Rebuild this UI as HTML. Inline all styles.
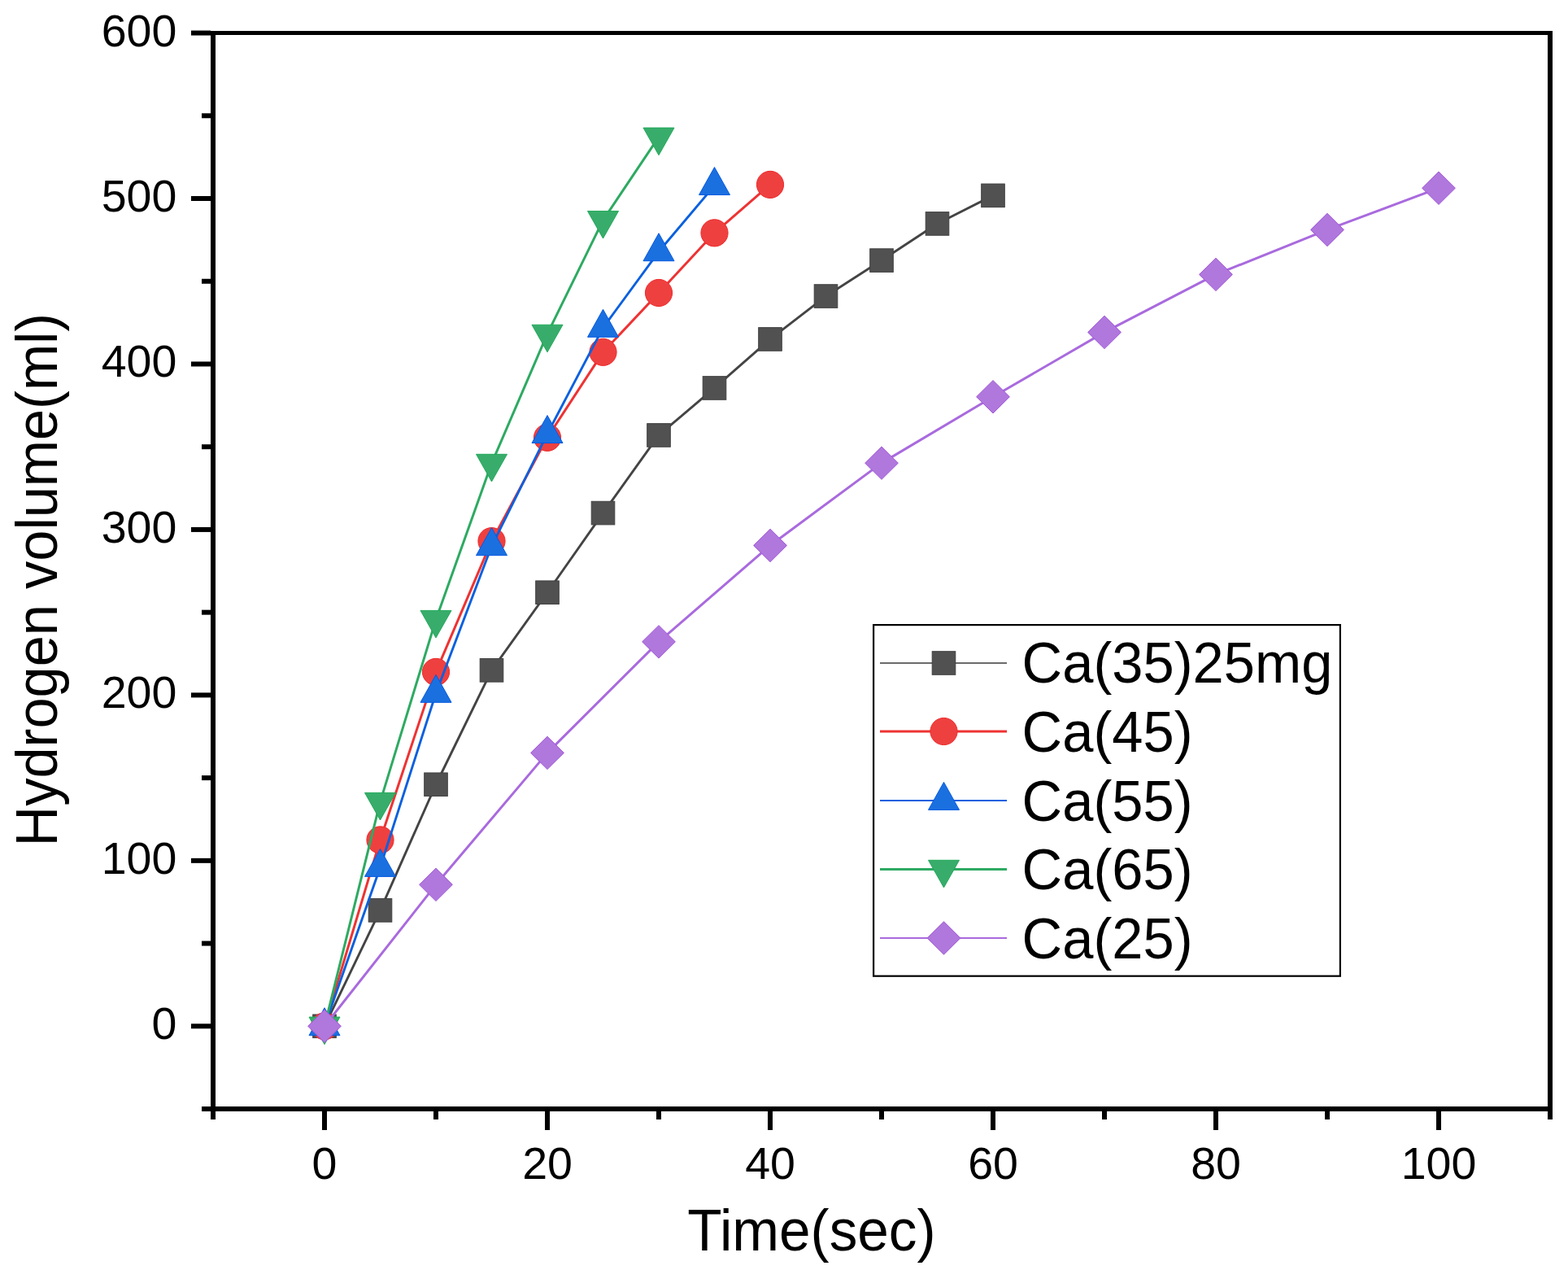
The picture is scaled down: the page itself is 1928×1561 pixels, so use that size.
<!DOCTYPE html>
<html><head><meta charset="utf-8"><title>Hydrogen volume vs Time</title>
<style>
html,body{margin:0;padding:0;background:#fff;}
body{width:1928px;height:1561px;overflow:hidden;}
svg{display:block;}
text{font-family:"Liberation Sans",Arial,sans-serif;fill:#000;}
</style></head><body>
<svg width="1928" height="1561" viewBox="0 0 1928 1561">
<rect x="0" y="0" width="1928" height="1561" fill="#fff"/>

<g>
<polyline points="399,1261.3 467.5,1118.88 536,964.25 604.5,823.86 673,728.23 741.5,630.57 810,534.95 878.5,476.96 947,416.94 1015.5,364.04 1084,320.09 1152.5,274.93 1221,240.34" fill="none" stroke="#444444" stroke-width="2.9" stroke-linejoin="round"/>
<rect x="384.7" y="1247" width="28.6" height="28.6" fill="#515151" stroke="#404040" stroke-width="1"/>
<rect x="453.2" y="1104.58" width="28.6" height="28.6" fill="#515151" stroke="#404040" stroke-width="1"/>
<rect x="521.7" y="949.95" width="28.6" height="28.6" fill="#515151" stroke="#404040" stroke-width="1"/>
<rect x="590.2" y="809.56" width="28.6" height="28.6" fill="#515151" stroke="#404040" stroke-width="1"/>
<rect x="658.7" y="713.93" width="28.6" height="28.6" fill="#515151" stroke="#404040" stroke-width="1"/>
<rect x="727.2" y="616.27" width="28.6" height="28.6" fill="#515151" stroke="#404040" stroke-width="1"/>
<rect x="795.7" y="520.65" width="28.6" height="28.6" fill="#515151" stroke="#404040" stroke-width="1"/>
<rect x="864.2" y="462.66" width="28.6" height="28.6" fill="#515151" stroke="#404040" stroke-width="1"/>
<rect x="932.7" y="402.64" width="28.6" height="28.6" fill="#515151" stroke="#404040" stroke-width="1"/>
<rect x="1001.2" y="349.74" width="28.6" height="28.6" fill="#515151" stroke="#404040" stroke-width="1"/>
<rect x="1069.7" y="305.79" width="28.6" height="28.6" fill="#515151" stroke="#404040" stroke-width="1"/>
<rect x="1138.2" y="260.63" width="28.6" height="28.6" fill="#515151" stroke="#404040" stroke-width="1"/>
<rect x="1206.7" y="226.04" width="28.6" height="28.6" fill="#515151" stroke="#404040" stroke-width="1"/>
</g>
<g>
<polyline points="399,1261.3 467.5,1032.41 536,825.9 604.5,665.16 673,537.8 741.5,432.81 810,359.97 878.5,286.32 947,226.91" fill="none" stroke="#ee3333" stroke-width="3.0" stroke-linejoin="round"/>
<circle cx="399" cy="1261.3" r="16.6" fill="#ef4040" stroke="#ee2a2a" stroke-width="1"/>
<circle cx="467.5" cy="1032.41" r="16.6" fill="#ef4040" stroke="#ee2a2a" stroke-width="1"/>
<circle cx="536" cy="825.9" r="16.6" fill="#ef4040" stroke="#ee2a2a" stroke-width="1"/>
<circle cx="604.5" cy="665.16" r="16.6" fill="#ef4040" stroke="#ee2a2a" stroke-width="1"/>
<circle cx="673" cy="537.8" r="16.6" fill="#ef4040" stroke="#ee2a2a" stroke-width="1"/>
<circle cx="741.5" cy="432.81" r="16.6" fill="#ef4040" stroke="#ee2a2a" stroke-width="1"/>
<circle cx="810" cy="359.97" r="16.6" fill="#ef4040" stroke="#ee2a2a" stroke-width="1"/>
<circle cx="878.5" cy="286.32" r="16.6" fill="#ef4040" stroke="#ee2a2a" stroke-width="1"/>
<circle cx="947" cy="226.91" r="16.6" fill="#ef4040" stroke="#ee2a2a" stroke-width="1"/>
</g>
<g>
<polyline points="399,1261.3 467.5,1065.98 536,851.94 604.5,671.27 673,533.12 741.5,402.9 810,309.31 878.5,228.13" fill="none" stroke="#0a60de" stroke-width="2.9" stroke-linejoin="round"/>
<polygon points="399,1238.7 418,1272.7 380,1272.7" fill="#1b70e0" stroke="#0559e0" stroke-width="1" stroke-linejoin="miter"/>
<polygon points="467.5,1043.38 486.5,1077.38 448.5,1077.38" fill="#1b70e0" stroke="#0559e0" stroke-width="1" stroke-linejoin="miter"/>
<polygon points="536,829.34 555,863.34 517,863.34" fill="#1b70e0" stroke="#0559e0" stroke-width="1" stroke-linejoin="miter"/>
<polygon points="604.5,648.67 623.5,682.67 585.5,682.67" fill="#1b70e0" stroke="#0559e0" stroke-width="1" stroke-linejoin="miter"/>
<polygon points="673,510.52 692,544.52 654,544.52" fill="#1b70e0" stroke="#0559e0" stroke-width="1" stroke-linejoin="miter"/>
<polygon points="741.5,380.3 760.5,414.3 722.5,414.3" fill="#1b70e0" stroke="#0559e0" stroke-width="1" stroke-linejoin="miter"/>
<polygon points="810,286.71 829,320.71 791,320.71" fill="#1b70e0" stroke="#0559e0" stroke-width="1" stroke-linejoin="miter"/>
<polygon points="878.5,205.53 897.5,239.53 859.5,239.53" fill="#1b70e0" stroke="#0559e0" stroke-width="1" stroke-linejoin="miter"/>
</g>
<g>
<polyline points="399,1261.3 467.5,985.61 536,761.6 604.5,569.54 673,410.43 741.5,270.65 810,168.31" fill="none" stroke="#2eaa62" stroke-width="3.0" stroke-linejoin="round"/>
<polygon points="399,1283.7 418,1250.1 380,1250.1" fill="#38ad6b" stroke="#22a85a" stroke-width="1" stroke-linejoin="miter"/>
<polygon points="467.5,1008.01 486.5,974.41 448.5,974.41" fill="#38ad6b" stroke="#22a85a" stroke-width="1" stroke-linejoin="miter"/>
<polygon points="536,784 555,750.4 517,750.4" fill="#38ad6b" stroke="#22a85a" stroke-width="1" stroke-linejoin="miter"/>
<polygon points="604.5,591.94 623.5,558.34 585.5,558.34" fill="#38ad6b" stroke="#22a85a" stroke-width="1" stroke-linejoin="miter"/>
<polygon points="673,432.83 692,399.23 654,399.23" fill="#38ad6b" stroke="#22a85a" stroke-width="1" stroke-linejoin="miter"/>
<polygon points="741.5,293.05 760.5,259.45 722.5,259.45" fill="#38ad6b" stroke="#22a85a" stroke-width="1" stroke-linejoin="miter"/>
<polygon points="810,190.71 829,157.11 791,157.11" fill="#38ad6b" stroke="#22a85a" stroke-width="1" stroke-linejoin="miter"/>
</g>
<g>
<polyline points="399,1261.3 536,1087.34 673,925.39 810,788.87 947,670.45 1084,569.13 1221,487.75 1358,408.4 1495,337.39 1632,282.45 1769,231.18" fill="none" stroke="#a96ade" stroke-width="3.0" stroke-linejoin="round"/>
<polygon points="399,1241.1 419.4,1261.3 399,1281.5 378.6,1261.3" fill="#b077dd" stroke="#a25ad8" stroke-width="1" stroke-linejoin="miter"/>
<polygon points="536,1067.14 556.4,1087.34 536,1107.54 515.6,1087.34" fill="#b077dd" stroke="#a25ad8" stroke-width="1" stroke-linejoin="miter"/>
<polygon points="673,905.19 693.4,925.39 673,945.59 652.6,925.39" fill="#b077dd" stroke="#a25ad8" stroke-width="1" stroke-linejoin="miter"/>
<polygon points="810,768.67 830.4,788.87 810,809.07 789.6,788.87" fill="#b077dd" stroke="#a25ad8" stroke-width="1" stroke-linejoin="miter"/>
<polygon points="947,650.25 967.4,670.45 947,690.65 926.6,670.45" fill="#b077dd" stroke="#a25ad8" stroke-width="1" stroke-linejoin="miter"/>
<polygon points="1084,548.93 1104.4,569.13 1084,589.33 1063.6,569.13" fill="#b077dd" stroke="#a25ad8" stroke-width="1" stroke-linejoin="miter"/>
<polygon points="1221,467.55 1241.4,487.75 1221,507.95 1200.6,487.75" fill="#b077dd" stroke="#a25ad8" stroke-width="1" stroke-linejoin="miter"/>
<polygon points="1358,388.2 1378.4,408.4 1358,428.6 1337.6,408.4" fill="#b077dd" stroke="#a25ad8" stroke-width="1" stroke-linejoin="miter"/>
<polygon points="1495,317.19 1515.4,337.39 1495,357.59 1474.6,337.39" fill="#b077dd" stroke="#a25ad8" stroke-width="1" stroke-linejoin="miter"/>
<polygon points="1632,262.25 1652.4,282.45 1632,302.65 1611.6,282.45" fill="#b077dd" stroke="#a25ad8" stroke-width="1" stroke-linejoin="miter"/>
<polygon points="1769,210.98 1789.4,231.18 1769,251.38 1748.6,231.18" fill="#b077dd" stroke="#a25ad8" stroke-width="1" stroke-linejoin="miter"/>
</g>
<g fill="#000">
<rect x="259" y="38" width="1650" height="5"/>
<rect x="259" y="1360" width="1650" height="6"/>
<rect x="259" y="38" width="6" height="1328"/>
<rect x="1903" y="38" width="6" height="1328"/>
<rect x="248" y="1360.03" width="11" height="6"/>
<rect x="235" y="1258.3" width="24" height="6"/>
<rect x="248" y="1156.57" width="11" height="6"/>
<rect x="235" y="1054.84" width="24" height="6"/>
<rect x="248" y="953.11" width="11" height="6"/>
<rect x="235" y="851.38" width="24" height="6"/>
<rect x="248" y="749.65" width="11" height="6"/>
<rect x="235" y="647.92" width="24" height="6"/>
<rect x="248" y="546.19" width="11" height="6"/>
<rect x="235" y="444.46" width="24" height="6"/>
<rect x="248" y="342.73" width="11" height="6"/>
<rect x="235" y="241" width="24" height="6"/>
<rect x="248" y="139.27" width="11" height="6"/>
<rect x="235" y="37.54" width="24" height="6"/>
<rect x="259" y="1366" width="6" height="10"/>
<rect x="396" y="1366" width="6" height="23"/>
<rect x="533" y="1366" width="6" height="10"/>
<rect x="670" y="1366" width="6" height="23"/>
<rect x="807" y="1366" width="6" height="10"/>
<rect x="944" y="1366" width="6" height="23"/>
<rect x="1081" y="1366" width="6" height="10"/>
<rect x="1218" y="1366" width="6" height="23"/>
<rect x="1355" y="1366" width="6" height="10"/>
<rect x="1492" y="1366" width="6" height="23"/>
<rect x="1629" y="1366" width="6" height="10"/>
<rect x="1766" y="1366" width="6" height="23"/>
<rect x="1903" y="1366" width="6" height="10"/>
</g>
<g font-size="55.5" text-anchor="end">
<text x="217.3" y="1277.3">0</text>
<text x="217.3" y="1073.84">100</text>
<text x="217.3" y="870.38">200</text>
<text x="217.3" y="666.92">300</text>
<text x="217.3" y="463.46">400</text>
<text x="217.3" y="260">500</text>
<text x="217.3" y="56.54">600</text>
</g>
<g font-size="55.5" text-anchor="middle">
<text x="399" y="1449.3">0</text>
<text x="673" y="1449.3">20</text>
<text x="947" y="1449.3">40</text>
<text x="1221" y="1449.3">60</text>
<text x="1495" y="1449.3">80</text>
<text x="1769" y="1449.3">100</text>
</g>
<text transform="translate(845.2,1537) scale(1,1.04)" font-size="69.3">Time(sec)</text>
<text transform="translate(70,1040.4) rotate(-90) scale(1,1.04)" font-size="68.6">Hydrogen volume(ml)</text>
<rect x="1074.1" y="768.1" width="573.8" height="431.6" fill="#fff" stroke="#000" stroke-width="2.2"/>
<line x1="1082" y1="815" x2="1238" y2="815" stroke="#3a3a3a" stroke-width="1.7"/>
<rect x="1146.2" y="800.7" width="28.6" height="28.6" fill="#515151" stroke="#404040" stroke-width="1"/>
<text transform="translate(1256.6,839.3) scale(1,1.035)" font-size="68.7">Ca(35)25mg</text>
<line x1="1082" y1="899" x2="1238" y2="899" stroke="#ee3333" stroke-width="3"/>
<circle cx="1160.5" cy="899" r="16.6" fill="#ef4040" stroke="#ee2a2a" stroke-width="1"/>
<text transform="translate(1256.6,923.9) scale(1,1.035)" font-size="68.7">Ca(45)</text>
<line x1="1082" y1="984" x2="1238" y2="984" stroke="#0a60de" stroke-width="1.8"/>
<polygon points="1160.5,961.4 1179.5,995.4 1141.5,995.4" fill="#1b70e0" stroke="#0559e0" stroke-width="1" stroke-linejoin="miter"/>
<text transform="translate(1256.6,1008.5) scale(1,1.035)" font-size="68.7">Ca(55)</text>
<line x1="1082" y1="1068.5" x2="1238" y2="1068.5" stroke="#2eaa62" stroke-width="3"/>
<polygon points="1160.5,1090.9 1179.5,1057.3 1141.5,1057.3" fill="#38ad6b" stroke="#22a85a" stroke-width="1" stroke-linejoin="miter"/>
<text transform="translate(1256.6,1093.1) scale(1,1.035)" font-size="68.7">Ca(65)</text>
<line x1="1082" y1="1153" x2="1238" y2="1153" stroke="#a96ade" stroke-width="1.8"/>
<polygon points="1160.5,1132.8 1180.9,1153 1160.5,1173.2 1140.1,1153" fill="#b077dd" stroke="#a25ad8" stroke-width="1" stroke-linejoin="miter"/>
<text transform="translate(1256.6,1177.7) scale(1,1.035)" font-size="68.7">Ca(25)</text>
</svg>
</body></html>
